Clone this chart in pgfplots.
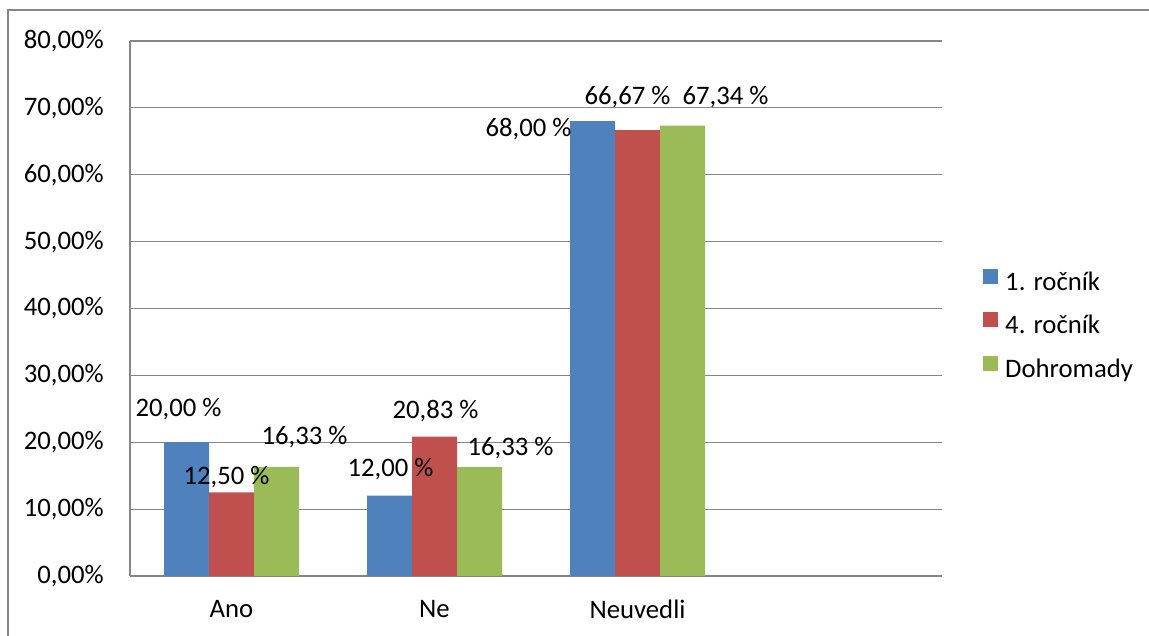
\documentclass[border=0pt]{standalone}
\usepackage{pgfplots}
\pgfplotsset{compat=1.18}
\usepackage{fontspec}
\setmainfont{Carlito}

\definecolor{serA}{RGB}{79,129,189}
\definecolor{serB}{RGB}{192,80,77}
\definecolor{serC}{RGB}{155,187,89}
\definecolor{gridgray}{RGB}{134,134,134}

\begin{document}
\begin{tikzpicture}[x=1pt,y=1pt,font=\fontsize{26.7}{32}\selectfont]
\path[use as bounding box] (0,0) rectangle (1149,636);
% chart frame
\draw[gridgray, line width=1.2pt] (8,0) -- (8,626) -- (1149,626);
\begin{axis}[
  at={(130pt,60pt)}, anchor=south west,
  scale only axis, width=812pt, height=535pt,
  ybar=0pt, bar width=45pt,
  xmin=-0.5, xmax=3.5,
  ymin=0, ymax=80,
  xtick={0,1,2}, xticklabels={Ano,Ne,Neuvedli},
  ytick={0,10,...,80},
  /pgf/number format/assume math mode=true,
  yticklabel={\pgfmathprintnumber[fixed,fixed zerofill,precision=2,use comma]{\tick}\%},
  yticklabel style={anchor=east, inner sep=0pt, xshift=-26pt},
  xticklabel style={anchor=north, inner sep=0pt, yshift=-24pt},
  major tick length=0pt,
  axis x line*=bottom, axis y line*=left,
  axis line style={-, gridgray, line width=1.2pt},
  ymajorgrids, grid style={gridgray, line width=1.2pt},
  nodes near coords={\pgfmathprintnumber[fixed,fixed zerofill,precision=2,use comma]{\pgfplotspointmeta} \%},
  visualization depends on={value \thisrow{dx} \as \labeldx},
  visualization depends on={value \thisrow{dy} \as \labeldy},
  every node near coord/.append style={anchor=center, inner sep=0pt, xshift=\labeldx pt, yshift=\labeldy pt, black},
  legend image code/.code={\fill[#1] (0pt,0pt) rectangle (15pt,15pt);},
  legend cell align=left,
  legend style={draw=none, fill=none, inner sep=0pt,
    at={(1.0505,0.467)}, anchor=west,
    row sep=16pt,
    nodes={inner sep=0pt, text height=19pt, text depth=6pt},
    /tikz/every odd column/.append style={column sep=7pt}},
]
\addplot[fill=serA, draw=none] table {
x y dx dy
0 20.00 -8 33
1 12.00 1 27
2 68.00 -64 -8
};
\addplot[fill=serB, draw=none] table {
x y dx dy
0 12.50 -5 15
1 20.83 1 26
2 66.67 -10 33
};
\addplot[fill=serC, draw=none] table {
x y dx dy
0 16.33 28 30
1 16.33 31 19
2 67.34 43 29
};
\legend{1. ročník, 4. ročník, Dohromady}
\end{axis}
\end{tikzpicture}
\end{document}
